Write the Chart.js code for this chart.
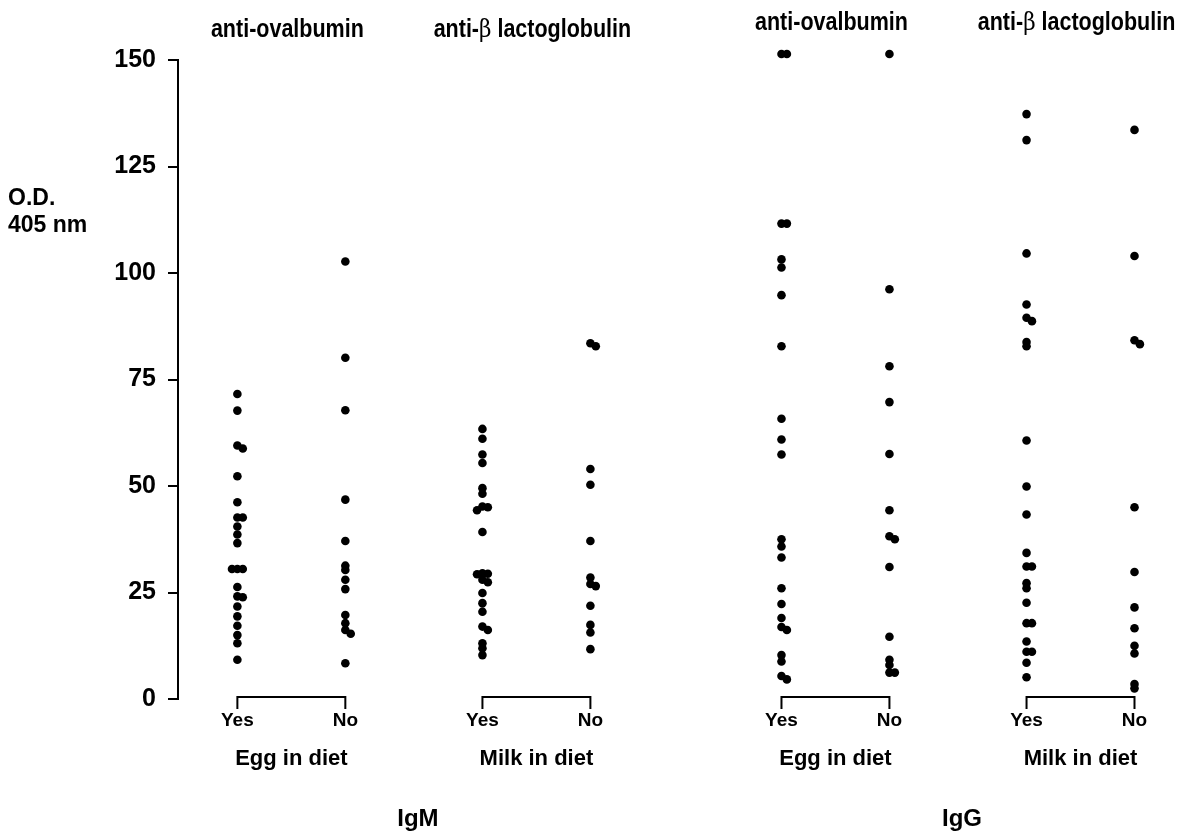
<!DOCTYPE html>
<html>
<head>
<meta charset="utf-8">
<script src="https://cdn.jsdelivr.net/npm/chart.js@4"></script>
<style>
  html, body { margin: 0; padding: 0; background: #fff; }
  #wrap { position: relative; width: 1192px; height: 837px; }
</style>
</head>
<body>
<div id="wrap"><canvas id="chart"></canvas></div>
<script>
const choices = ['Yes', 'No'];
const dietLabels = ['Egg in diet', 'Milk in diet'];
const antibodyLabels = [['anti-ovalbumin'], ['anti-', 'β', ' lactoglobulin']];
const isotypes = ['IgM', 'IgG'];
const yTicks = [0, 25, 50, 75, 100, 125, 150];

// O.D. 405 nm values
const igmEggYes = [71.6, 67.7, 59.5, 58.8, 52.3, 46.2, 42.6, 42.6, 40.5, 38.6, 36.6, 30.5, 30.5, 30.5, 26.3, 24.1, 23.9, 21.7, 19.4, 17.2, 15.0, 13.1, 9.2];
const igmEggNo = [102.7, 80.1, 67.8, 46.8, 37.1, 31.3, 30.3, 28.0, 25.8, 19.7, 17.8, 16.2, 15.3, 8.4];
const igmMilkYes = [63.4, 61.1, 57.4, 55.4, 49.5, 48.2, 45.2, 45.0, 44.3, 39.2, 29.5, 29.4, 29.3, 28.0, 27.4, 24.9, 22.5, 20.5, 17.0, 16.2, 13.1, 11.9, 10.3];
const igmMilkNo = [83.5, 82.8, 54.0, 50.3, 37.1, 28.5, 27.0, 26.5, 21.9, 17.4, 15.6, 11.7];
const iggEggYes = [151.4, 151.4, 111.6, 111.6, 103.2, 101.3, 94.8, 82.8, 65.8, 60.9, 57.4, 37.5, 35.8, 33.2, 26.0, 22.3, 19.0, 16.9, 16.2, 10.3, 8.8, 5.4, 4.6];
const iggEggNo = [151.4, 96.2, 78.1, 69.7, 57.5, 44.3, 38.2, 37.5, 31.0, 14.6, 9.2, 8.0, 6.2, 6.2];
const iggMilkYes = [137.3, 131.2, 104.6, 92.6, 89.5, 88.7, 83.8, 82.8, 60.7, 49.9, 43.3, 34.3, 31.1, 31.1, 27.2, 26.0, 22.6, 17.8, 17.8, 13.5, 11.1, 11.1, 8.5, 5.1];
const iggMilkNo = [133.6, 104.0, 84.2, 83.3, 45.0, 29.8, 21.5, 16.6, 12.5, 10.7, 3.5, 2.5];

const groups = [
  [igmEggYes, igmEggNo],
  [igmMilkYes, igmMilkNo],
  [iggEggYes, iggEggNo],
  [iggMilkYes, iggMilkNo]
];

// column centre on the x scale: pairs are evenly spaced, with an extra gap between IgM and IgG
function colX(pair, choice) {
  return pair * 2.27 + Math.floor(pair / 2) * 0.5 + choice;
}

// points with (nearly) the same value sit side by side
function toPoints(values, x) {
  const placed = [];
  return values.map((v) => {
    const k = placed.filter((p) => Math.abs(p - v) < 1).length;
    placed.push(v);
    const shift = k === 0 ? 0 : (k % 2 ? 1 : -1) * Math.ceil(k / 2) * 0.05;
    return { x: x + shift, y: v };
  });
}

const datasets = [];
groups.forEach((pair, p) => {
  pair.forEach((values, c) => {
    datasets.push({
      label: choices[c],
      data: toPoints(values, colX(p, c)),
      backgroundColor: '#000',
      borderColor: '#000',
      borderWidth: 0,
      pointRadius: 4.3,
      pointHoverRadius: 4.3,
      clip: false
    });
  });
});

const SANS = '"Liberation Sans", Arial, Helvetica, sans-serif';

// titles are set in a condensed face: squeeze the regular bold horizontally
function drawPieces(ctx, pieces, fonts, cx, cy, squeeze) {
  const widths = pieces.map((t, i) => { ctx.font = fonts[i]; return ctx.measureText(t).width; });
  const total = widths.reduce((a, b) => a + b, 0);
  ctx.save();
  ctx.translate(cx, cy);
  ctx.scale(squeeze, 1);
  ctx.textAlign = 'left';
  let x = -total / 2;
  pieces.forEach((t, i) => {
    ctx.font = fonts[i];
    ctx.fillText(t, x, 0);
    x += widths[i];
  });
  ctx.restore();
}

const labelsPlugin = {
  id: 'labels',
  afterDraw(chart) {
    const ctx = chart.ctx;
    const xs = chart.scales.x;
    const ys = chart.scales.y;
    const base = ys.getPixelForValue(0);
    const top = ys.getPixelForValue(150);
    ctx.save();
    ctx.fillStyle = '#000';
    ctx.strokeStyle = '#000';
    ctx.textAlign = 'center';
    ctx.textBaseline = 'middle';

    // y axis line, ending at the top tick
    ctx.lineWidth = 2;
    ctx.beginPath();
    ctx.moveTo(xs.left, base + 1);
    ctx.lineTo(xs.left, top - 1);
    ctx.stroke();

    groups.forEach((pair, p) => {
      const xYes = xs.getPixelForValue(colX(p, 0));
      const xNo = xs.getPixelForValue(colX(p, 1));
      const mid = (xYes + xNo) / 2;

      ctx.lineWidth = 2;
      ctx.beginPath();
      ctx.moveTo(xYes, base + 10);
      ctx.lineTo(xYes, base - 2);
      ctx.lineTo(xNo, base - 2);
      ctx.lineTo(xNo, base + 10);
      ctx.stroke();

      ctx.font = 'bold 19px ' + SANS;
      ctx.fillText(choices[0], xYes, base + 22);
      ctx.fillText(choices[1], xNo, base + 22);

      ctx.font = 'bold 22px ' + SANS;
      ctx.fillText(dietLabels[p % 2], mid, base + 60);

      const pieces = antibodyLabels[p % 2];
      const fonts = pieces.map((t) => t === 'β' ? '25px "DejaVu Serif", serif' : 'bold 25px ' + SANS);
      drawPieces(ctx, pieces, fonts, mid - 4, p < 2 ? top - 30 : top - 37, 0.86);
    });

    ctx.font = 'bold 24px ' + SANS;
    isotypes.forEach((name, i) => {
      const x0 = xs.getPixelForValue(colX(i * 2, 0));
      const x1 = xs.getPixelForValue(colX(i * 2 + 1, 1));
      ctx.fillText(name, (x0 + x1) / 2 + 4, base + 120);
    });

    ctx.textAlign = 'left';
    ctx.font = 'bold 23px ' + SANS;
    ctx.fillText('O.D.', 8, ys.getPixelForValue(117.5));
    ctx.fillText('405 nm', 8, ys.getPixelForValue(111));
    ctx.restore();
  }
};

new Chart(document.getElementById('chart'), {
  type: 'scatter',
  data: { datasets },
  options: {
    responsive: true,
    maintainAspectRatio: false,
    animation: false,
    events: [],
    layout: { padding: { top: 51.5, bottom: 138, left: 0, right: 10 } },
    plugins: {
      legend: { display: false },
      tooltip: { enabled: false }
    },
    scales: {
      x: { type: 'linear', min: -0.55, max: 8.75, display: false },
      y: {
        min: 0,
        max: 152,
        afterBuildTicks: (scale) => { scale.ticks = yTicks.map((v) => ({ value: v })); },
        afterFit: (scale) => { scale.width = 178; },
        ticks: { color: '#000', padding: 12, font: { family: SANS, size: 25, weight: 'bold' } },
        grid: { drawOnChartArea: false, drawTicks: true, tickLength: 10, color: '#000', lineWidth: 2 },
        border: { display: false }
      }
    }
  },
  plugins: [labelsPlugin]
});
</script>
</body>
</html>
